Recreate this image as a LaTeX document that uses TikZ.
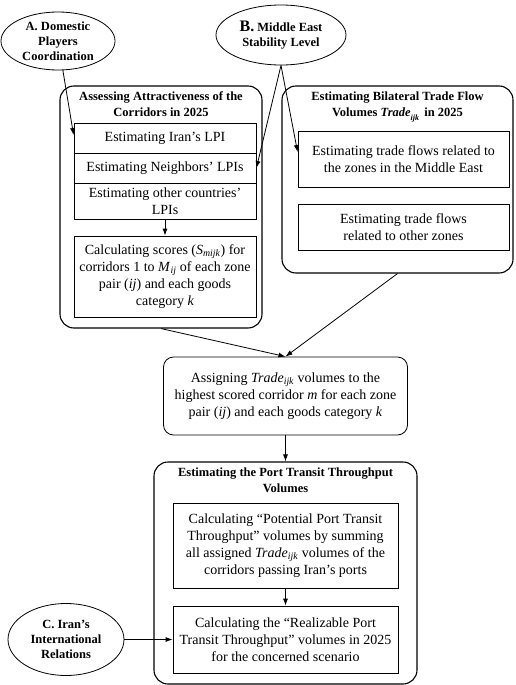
\documentclass[tikz,border=0pt]{standalone}
\usepackage{fontspec}
\setmainfont{Liberation Serif}
\usetikzlibrary{positioning, arrows.meta, shapes.geometric}

\begin{document}
\begin{tikzpicture}[x=1pt, y=-1pt, >={Latex[length=7pt,width=5pt]},
    box/.style={draw, line width=0.8pt, align=center, inner sep=2pt, font=\fontsize{14}{17}\selectfont},
    frame/.style={draw, line width=1.1pt, rounded corners=14pt},
    factor/.style={draw, ellipse, line width=0.8pt, align=center, inner sep=0pt, font=\bfseries\fontsize{12.5}{15}\selectfont},
    heading/.style={align=center, inner sep=2pt, font=\bfseries\fontsize{12.5}{16}\selectfont}]
    \useasboundingbox (0,0) rectangle (515,685);

    \node[factor, minimum width=114pt, minimum height=58pt] (A) at (58,41) {A. Domestic\\ Players\\ Coordination};
    \node[factor, minimum width=130pt, minimum height=60pt] (B) at (281,35) {{\fontsize{16}{16}\selectfont B.} Middle East\\ Stability Level};
    \node[factor, minimum width=116pt, minimum height=72pt] (C) at (66,639.5) {C. Iran's\\ International\\ Relations};

    \node[frame, minimum width=202pt, minimum height=242pt] (attract) at (161,207) {};
    \node[heading, below=4pt of attract.north] (attracthead) {Assessing Attractiveness of the\\ Corridors in 2025};
    \foreach \n/\y/\h/\t in {iran/138/30/Estimating Iran's LPI,
        neigh/168/30/Estimating Neighbors' LPIs,
        other/201/36/{Estimating other countries'\\ LPIs}}
    {
        \node[box, minimum width=182pt, minimum height=\h pt] (\n) at (165,\y) {\t};
    }
    \node[box, minimum width=182pt, minimum height=81pt] (score) at (165,276.5)
        {Calculating scores (\textit{S}\textsubscript{\textit{mijk}}) for\\ corridors 1 to \textit{M}\textsubscript{\textit{ij}} of each zone\\ pair (\textit{ij}) and each goods\\ category \textit{k}};

    \node[frame, minimum width=231pt, minimum height=187pt] (trade) at (397.5,179.5) {};
    \node[heading, below=4pt of trade.north] (tradehead) {Estimating Bilateral Trade Flow\\ Volumes \textit{Trade}\raisebox{-4pt}{\fontsize{8}{8}\selectfont\textit{ijk}}\, in 2025};
    \node[box, minimum width=211pt, minimum height=56pt] (mideast) at (403.5,159) {Estimating trade flows related to\\ the zones in the Middle East};
    \node[box, minimum width=211pt, minimum height=46pt] (others) at (403.5,227) {Estimating trade flows\\ related to other zones};

    \node[box, rounded corners=10pt, minimum width=244pt, minimum height=78pt] (assign) at (285.5,396)
        {Assigning \textit{Trade}\textsubscript{\textit{ijk}} volumes to the\\ highest scored corridor \textit{m} for each zone\\ pair (\textit{ij}) and each goods category \textit{k}};

    \node[frame, minimum width=263pt, minimum height=222pt] (port) at (285.5,573) {};
    \node[heading, below=4pt of port.north] (porthead) {Estimating the Port Transit Throughput\\ Volumes};
    \node[box, minimum width=225pt, minimum height=85pt] (potential) at (285.5,545.5)
        {Calculating ``Potential Port Transit\\ Throughput'' volumes by summing\\ all assigned \textit{Trade}\textsubscript{\textit{ijk}} volumes of the\\ corridors passing Iran's ports};
    \node[box, minimum width=225pt, minimum height=67pt] (realize) at (285.5,639.5)
        {Calculating the ``Realizable Port\\ Transit Throughput'' volumes in 2025\\ for the concerned scenario};

    \draw[line width=0.8pt, ->] (A) -- ([yshift=3pt]iran.west);
    \draw[line width=0.8pt, ->] (B.south) -- (neigh.east);
    \draw[line width=0.8pt, ->] (B.south) -- ([yshift=7pt]mideast.west);
    \draw[line width=0.8pt, ->] (other) -- (score);
    \draw[line width=0.8pt, ->] (attract.south) -- (assign.north);
    \draw[line width=0.8pt, ->] (trade.south) -- (assign.north);
    \draw[line width=0.8pt, ->] (assign) -- (port);
    \draw[line width=0.8pt, ->] (potential) -- (realize);
    \draw[line width=0.8pt, ->] (C) -- (realize);
\end{tikzpicture}
\end{document}
